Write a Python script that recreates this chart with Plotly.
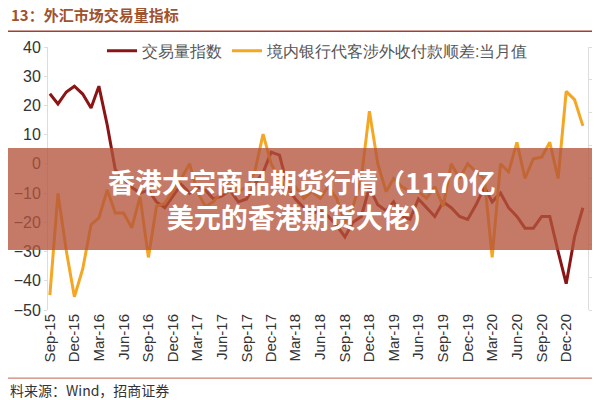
import pandas as pd
import plotly.graph_objects as go

months = pd.date_range("2015-09-01", "2021-02-01", freq="MS")

# 交易量指数 (left axis)
volume_index = [
    24, 20.5, 24.6, 26.6, 23.9, 19.1, 26.6, 13.3, -2,
    -5, -8, -10, -9, -13, -15, -11, -7, -10, -8, -9, -12, -11, -9, -13, -12,
    -7, -3, 4, 3, -8, -12, -15, -17, -16, -18, -21, -25, -20, -18, -8,
    -14, -16, -13, -18, -19, -12, -15, -18, -13, -15, -18, -19, -14, -8,
    -13, -10, -15, -18, -22, -22, -18, -18, -30, -41, -25, -15,
]

# 境内银行代客涉外收付款顺差:当月值 (right axis)
bank_surplus = [
    -71, -9, -44, -72, -55, -28, -24, -7, -21, -21, -30, -11,
    -48, -17, -15, -8, 0, 9, -8, -17, -14, -8, 0, -8,
    -5, 4, 27, 9, 0, -8, -5, -12, -8, -12, -5, -12,
    -27, -17, 0, 41, 9, -8, 0, -5, -8, -8, -12, -5,
    -17, 9, 0, 9, 4, 0, -48, 9, 4, 22, 0, 12,
    13, 22, 0, 53, 48, 32,
]

fig = go.Figure()
fig.add_trace(go.Scatter(
    x=months, y=volume_index, mode="lines", name="交易量指数",
    line=dict(color="#8b1414", width=3),
))
fig.add_trace(go.Scatter(
    x=months, y=bank_surplus, mode="lines", name="境内银行代客涉外收付款顺差:当月值",
    line=dict(color="#f5a623", width=3), yaxis="y2",
))

font = "Liberation Sans, Arial, sans-serif"
fig.update_layout(
    width=600, height=400,
    margin=dict(l=40, r=20, t=39, b=98, autoexpand=False),
    paper_bgcolor="white", plot_bgcolor="white",
    font=dict(family=font, size=16, color="#333"),
    showlegend=True,
    legend=dict(orientation="h", x=0.5, xanchor="center", y=1.05, yanchor="top",
                font=dict(size=16, color="#555"), bgcolor="rgba(0,0,0,0)"),
    xaxis=dict(
        tickformat="%b-%y", dtick="M3", tick0="2015-09-01", tickangle=-90,
        range=["2015-08-25", "2021-02-20"], showgrid=False,
        showline=False, ticks="", tickfont=dict(size=15),
    ),
    yaxis=dict(range=[-50, 40], dtick=10, showgrid=False, zeroline=False,
               showline=True, linecolor="#ddd", ticks="outside", ticklen=3,
               tickcolor="#ddd", tickfont=dict(size=16)),
    yaxis2=dict(range=[-80, 80], dtick=20, overlaying="y", side="right",
                showgrid=False, zeroline=False, showline=True, linecolor="#ddd",
                ticks="outside", ticklen=3, tickcolor="#ddd", tickfont=dict(size=16)),
)

# header and footer
fig.add_annotation(text="<b>13：外汇市场交易量指标</b>", xref="paper", yref="paper",
                   x=-0.072, y=1.125, xanchor="left", yanchor="middle",
                   showarrow=False, font=dict(size=15, color="#a0522d", family="Noto Sans CJK SC"))
fig.add_shape(type="line", xref="paper", yref="paper", x0=-0.1, x1=1.1, y0=1.06, y1=1.06,
              line=dict(color="#a04030", width=1.5))
fig.add_shape(type="line", xref="paper", yref="paper", x0=-0.1, x1=1.1, y0=-0.259, y1=-0.259,
              line=dict(color="#c06050", width=1))
fig.add_annotation(text="料来源：Wind，招商证券", xref="paper", yref="paper",
                   x=-0.075, y=-0.304, xanchor="left", yanchor="middle",
                   showarrow=False, font=dict(size=14, color="#333", family="Noto Sans CJK SC"))

# overlay banner
fig.add_shape(type="rect", xref="paper", yref="paper", x0=-0.1, x1=1.1,
              y0=0.228, y1=0.616, fillcolor="rgba(180,85,60,0.78)", line=dict(width=0),
              layer="above")
fig.add_annotation(text="<b>香港大宗商品期货行情（1170亿<br>美元的香港期货大佬）</b>",
                   xref="paper", yref="paper", x=0.47, y=0.422, showarrow=False,
                   font=dict(size=27, color="white", family="Noto Sans CJK SC"))

fig.write_html("out.html")
